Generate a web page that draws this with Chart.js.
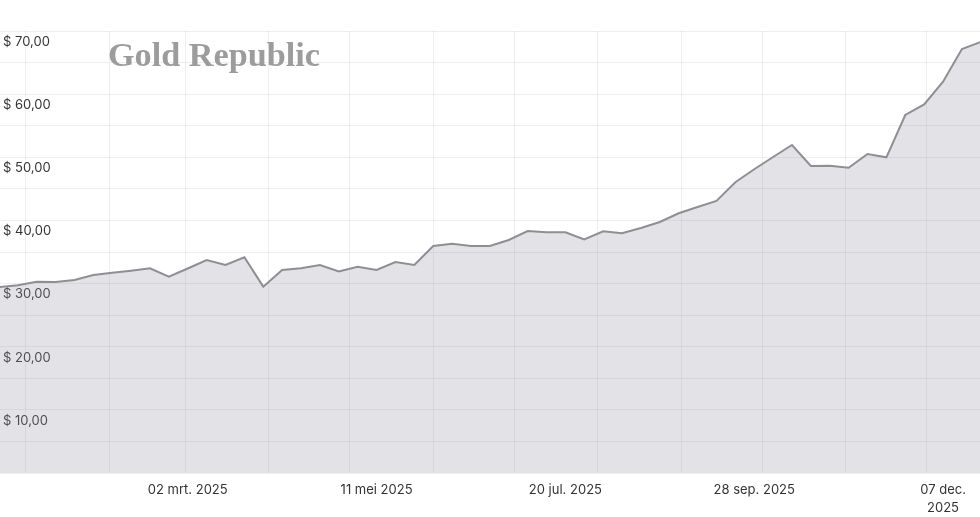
<!DOCTYPE html>
<html>
<head>
<meta charset="utf-8">
<script src="https://cdn.jsdelivr.net/npm/chart.js@4"></script>
<style>
  html, body { margin: 0; padding: 0; background: #fff; }
  #wrap { width: 980px; height: 517px; position: relative; }
</style>
</head>
<body>
<div id="wrap"><canvas id="myChart"></canvas></div>
<script>
// weekly closing dates (Sundays)
const weekDates = [
  '2024-12-22', '2024-12-29', '2025-01-05', '2025-01-12', '2025-01-19', '2025-01-26',
  '2025-02-02', '2025-02-09', '2025-02-16', '2025-02-23', '2025-03-02', '2025-03-09',
  '2025-03-16', '2025-03-23', '2025-03-30', '2025-04-06', '2025-04-13', '2025-04-20',
  '2025-04-27', '2025-05-04', '2025-05-11', '2025-05-18', '2025-05-25', '2025-06-01',
  '2025-06-08', '2025-06-15', '2025-06-22', '2025-06-29', '2025-07-06', '2025-07-13',
  '2025-07-20', '2025-07-27', '2025-08-03', '2025-08-10', '2025-08-17', '2025-08-24',
  '2025-08-31', '2025-09-07', '2025-09-14', '2025-09-21', '2025-09-28', '2025-10-05',
  '2025-10-12', '2025-10-19', '2025-10-26', '2025-11-02', '2025-11-09', '2025-11-16',
  '2025-11-23', '2025-11-30', '2025-12-07', '2025-12-14', '2025-12-21'
];

// price in dollars
const prices = [
  29.46, 29.73, 30.30, 30.25, 30.57, 31.36, 31.72, 32.04, 32.42, 31.09, 32.39, 33.73,
  32.94, 34.16, 29.51, 32.15, 32.42, 32.94, 31.91, 32.67, 32.15, 33.42, 32.94, 35.95,
  36.32, 35.95, 35.95, 36.90, 38.33, 38.12, 38.12, 36.98, 38.28, 37.96, 38.80, 39.75,
  41.13, 42.13, 43.08, 46.04, 48.10, 50.05, 51.95, 48.62, 48.67, 48.35, 50.52, 50.00,
  56.70, 58.36, 61.97, 67.15, 68.26
];

// x-axis labels
const labelDates = ['2025-03-02', '2025-05-11', '2025-07-20', '2025-09-28', '2025-12-07'];
const labelTexts = ['02 mrt. 2025', '11 mei 2025', '20 jul. 2025', '28 sep. 2025', ['07 dec.', '2025']];

// vertical grid lines (month starts)
const monthStarts = [
  '2025-01-01', '2025-02-01', '2025-03-01', '2025-04-01', '2025-05-01', '2025-06-01',
  '2025-07-01', '2025-08-01', '2025-09-01', '2025-10-01', '2025-11-01', '2025-12-01'
];

const dayNum = s => {
  const [y, m, d] = s.split('-').map(Number);
  return (Date.UTC(y, m - 1, d) - Date.UTC(2025, 0, 1)) / 86400000;
};

const monthDays = monthStarts.map(dayNum);
const labelDays = labelDates.map(dayNum);

const logoPlugin = {
  id: 'logo',
  beforeDatasetsDraw(chart) {
    const c = chart.ctx;
    c.save();
    c.font = 'bold 34px "Liberation Serif", "DejaVu Serif", serif';
    c.fillStyle = '#9c9c9c';
    c.textBaseline = 'alphabetic';
    const w = c.measureText('Gold Republic').width;
    c.translate(108, 66);
    c.scale(212 / w, 1);
    c.fillText('Gold Republic', 0, 0);
    c.restore();
  }
};

const ctx = document.getElementById('myChart');

new Chart(ctx, {
  type: 'line',
  data: {
    datasets: [{
      data: weekDates.map((d, i) => ({ x: dayNum(d), y: prices[i] })),
      borderColor: '#8e8e94',
      borderWidth: 2,
      backgroundColor: 'rgba(150,150,165,0.27)',
      fill: 'origin',
      pointRadius: 0,
      tension: 0
    }]
  },
  options: {
    responsive: true,
    maintainAspectRatio: false,
    animation: false,
    events: [],
    layout: { padding: { top: 31, left: 0, right: 0, bottom: 0 } },
    plugins: {
      legend: { display: false },
      tooltip: { enabled: false }
    },
    scales: {
      x: {
        type: 'linear',
        min: -9.6,
        max: 353.7,
        border: { display: false },
        afterBuildTicks: scale => {
          const vals = monthDays.concat(labelDays).sort((a, b) => a - b);
          scale.ticks = vals.map(v => ({ value: v }));
        },
        afterFit: scale => { scale.height = 44; },
        grid: {
          drawTicks: false,
          color: c => (c.tick && monthDays.includes(c.tick.value)) ? 'rgba(0,0,0,0.065)' : 'rgba(0,0,0,0)'
        },
        ticks: {
          autoSkip: false,
          maxRotation: 0,
          minRotation: 0,
          padding: 8,
          color: '#333',
          font: { family: 'Inter', size: 13, lineHeight: 1.4 },
          callback: v => {
            const i = labelDays.indexOf(v);
            return i >= 0 ? labelTexts[i] : '';
          }
        }
      },
      y: {
        min: 0,
        max: 70,
        border: { display: false },
        afterFit: scale => { scale.width = 0; },
        grid: {
          drawTicks: false,
          color: 'rgba(0,0,0,0.065)'
        },
        ticks: {
          stepSize: 5,
          mirror: true,
          padding: 3,
          labelOffset: 11,
          color: '#333',
          textStrokeColor: '#fff',
          textStrokeWidth: 3,
          font: { family: 'Inter', size: 13 },
          callback: v => (v > 0 && v % 10 === 0) ? '$ ' + v + ',00' : ''
        }
      }
    }
  },
  plugins: [logoPlugin]
});
</script>
</body>
</html>
